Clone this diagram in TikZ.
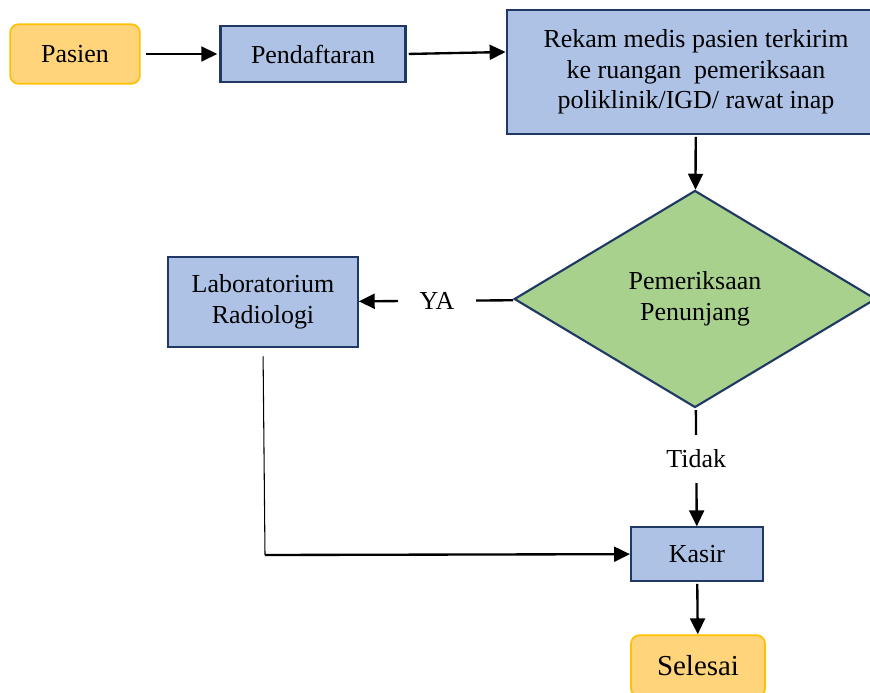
\documentclass[tikz,border=0pt]{standalone}
\usepackage{fontspec}
\setmainfont{Liberation Serif}
\usepackage{tikz}
\usetikzlibrary{positioning,arrows.meta,shapes.geometric,calc}

\definecolor{boxblue}{HTML}{AEC2E6}
\definecolor{boxline}{HTML}{1F3864}
\definecolor{termfill}{HTML}{FFD47A}
\definecolor{termline}{HTML}{FFC000}
\definecolor{decfill}{HTML}{A9D18E}

\begin{document}
\begin{tikzpicture}[
  x=0.47pt, y=-0.47pt,
  font=\fontsize{12.2}{14.4}\selectfont,
  proc/.style={draw=boxline, line width=1pt, fill=boxblue, align=center, inner sep=2pt},
  term/.style={draw=termline, line width=0.8pt, fill=termfill, rounded corners=4pt,
               align=center, inner sep=2pt},
  cond/.style={draw=boxline, line width=1pt, fill=decfill, diamond, aspect=1.66,
               align=center, inner sep=0pt},
  arr/.style={-{Triangle[length=7.5pt,width=7pt]}, line width=1.1pt},
  lbl/.style={fill=white, inner xsep=10pt, inner ysep=7pt},
]
\useasboundingbox (0,0) rectangle (870,693);

\node[term] (pasien) at (75,54)  [minimum width=61pt, minimum height=28pt] {Pasien};
\node[proc] (daftar) at (313,54) [minimum width=87pt, minimum height=26pt] {Pendaftaran};
\node[proc] (rekam)  at (696,72) [minimum width=178pt, minimum height=58pt]
  {Rekam medis pasien terkirim\\ke ruangan\ \ pemeriksaan\\poliklinik/IGD/ rawat inap};
\node[cond] (periksa) at (695,299) [minimum width=170pt, minimum height=102pt]
  {Pemeriksaan\\Penunjang};
\node[proc] (lab)    at (263,302) [minimum width=89pt, minimum height=42pt]
  {Laboratorium\\Radiologi};
\node[proc] (kasir)  at (697,554) [minimum width=62pt, minimum height=25pt] {Kasir};
\node[term] (selesai) at (698,666) [minimum width=63pt, minimum height=29pt,
  font=\fontsize{13.6}{16}\selectfont] {Selesai};
\coordinate (belok) at (265,555);

\draw[arr, shorten <=2.5pt, shorten >=1pt] (pasien) -- (daftar);
\draw[arr, shorten <=1pt] (daftar.east) -- (rekam.west |- 0,52);
\draw[arr, shorten <=1pt] (rekam) -- (periksa);
\draw[arr, shorten <=1pt] (periksa) -- node[lbl, pos=0.5]{YA} (lab);
\draw[arr, shorten <=1pt] (periksa) -- node[lbl, pos=0.43]{Tidak} (kasir);
\draw[line width=0.5pt, shorten <=4pt] (lab.south) -- (belok);
\draw[arr] (belok) -- (kasir);
\draw[arr, shorten <=1pt] (kasir) -- (selesai);
\end{tikzpicture}
\end{document}
